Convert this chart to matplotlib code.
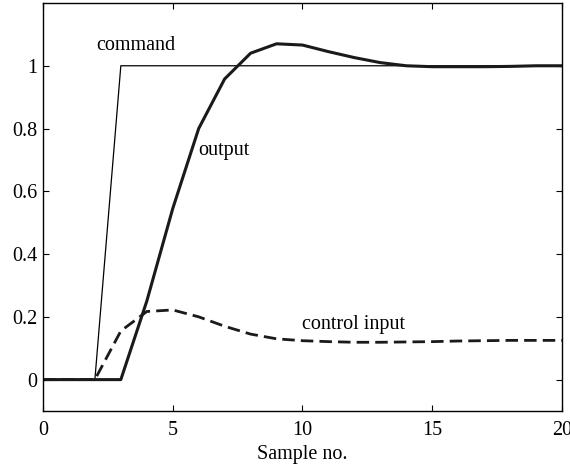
import matplotlib.pyplot as plt
import numpy as np

plt.rcParams['font.family'] = ['Liberation Serif', 'DejaVu Serif']

samples = np.arange(0, 21)
command = [0, 0, 0, 1, 1, 1, 1, 1, 1, 1, 1, 1, 1, 1, 1, 1, 1, 1, 1, 1, 1]
output = [0, 0, 0, 0, 0.25, 0.545, 0.80, 0.958, 1.04, 1.07, 1.066, 1.045, 1.026,
          1.01, 1.0, 0.997, 0.997, 0.997, 0.998, 1.0, 1.0]
control = [0, 0, 0, 0.155, 0.217, 0.222, 0.200, 0.170, 0.145, 0.130, 0.124, 0.121,
           0.119, 0.119, 0.120, 0.121, 0.123, 0.124, 0.125, 0.125, 0.125]

fs = 14.5
fig = plt.figure(figsize=(5.7, 4.68), dpi=100)
ax = fig.add_axes([0.0754, 0.1218, 0.9106, 0.8718])

ax.plot(samples, command, color='black', lw=0.9)
ax.plot(samples, output, color='#1a1a1a', lw=2.2)
ax.plot(samples, control, color='#1a1a1a', lw=2.0, dashes=(4.5, 2.2))

ax.text(2.05, 1.065, 'command', fontsize=fs, va='center', ha='left')
ax.text(6.0, 0.73, 'output', fontsize=fs, va='center', ha='left')
ax.text(10.0, 0.175, 'control input', fontsize=fs, va='center', ha='left')

ax.set_xlim(0, 20)
ax.set_ylim(-0.1, 1.2)
ax.set_xticks([0, 5, 10, 15, 20])
ax.set_xticklabels(['0', '5', '10', '15', '20'])
ax.set_yticks([0, 0.2, 0.4, 0.6, 0.8, 1])
ax.set_yticklabels(['0', '0.2', '0.4', '0.6', '0.8', '1'])
ax.tick_params(direction='in', top=True, right=True, labelsize=fs, length=4, width=0.8)
ax.tick_params(axis='x', pad=7)
ax.tick_params(axis='y', pad=4)
for s in ax.spines.values():
    s.set_linewidth(1.0)
ax.set_xlabel('Sample no.', fontsize=fs, labelpad=4)

plt.savefig('out.png', dpi=100)
